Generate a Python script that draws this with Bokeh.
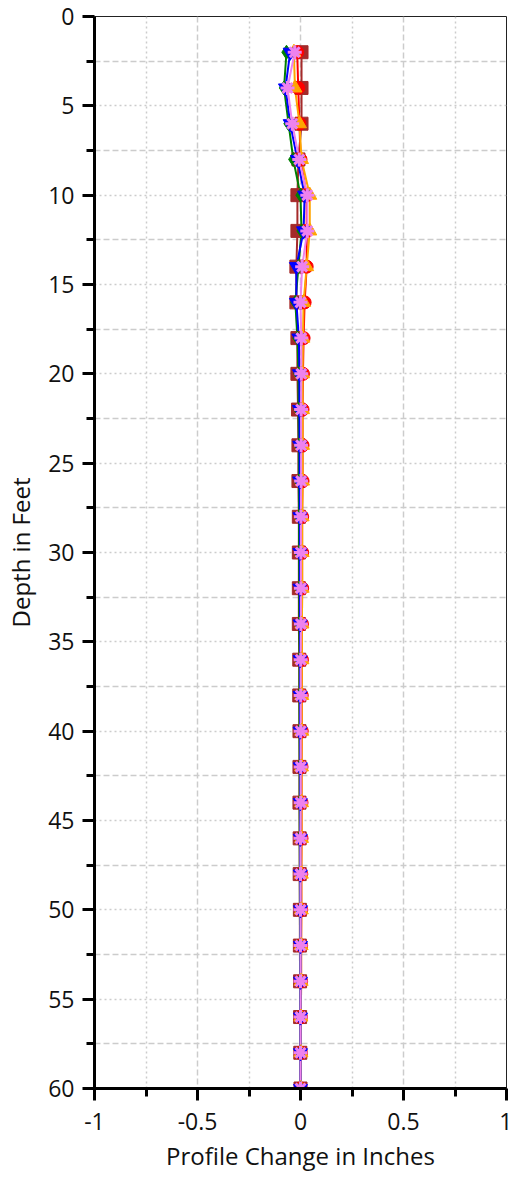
from bokeh.plotting import figure
from bokeh.models import Range1d, FixedTicker, CustomJSTickFormatter
from bokeh.embed import file_html
from bokeh.resources import INLINE

depth = [2, 4, 6, 8, 10, 12, 14, 16, 18, 20, 22, 24, 26, 28, 30,
         32, 34, 36, 38, 40, 42, 44, 46, 48, 50, 52, 54, 56, 58, 60]

s_brown = [0.005, 0.005, 0.005, -0.01, -0.015, -0.015, -0.02, -0.02, -0.015, -0.015,
           -0.012, -0.01, -0.01, -0.008, -0.008, -0.008, -0.008, -0.006, -0.006, -0.005,
           -0.005, -0.005, -0.004, -0.004, -0.003, -0.003, -0.002, -0.002, -0.001, 0.0]
s_red = [-0.016, -0.011, -0.005, 0.0, 0.03, 0.03, 0.03, 0.02, 0.015, 0.012,
         0.01, 0.01, 0.01, 0.008, 0.008, 0.008, 0.007, 0.007, 0.006, 0.006,
         0.005, 0.005, 0.005, 0.004, 0.004, 0.003, 0.003, 0.002, 0.002, 0.001]
s_orange = [-0.032, -0.027, -0.005, 0.005, 0.045, 0.045, 0.03, 0.015, 0.012, 0.01,
            0.01, 0.01, 0.01, 0.008, 0.008, 0.008, 0.007, 0.007, 0.006, 0.006,
            0.005, 0.005, 0.005, 0.004, 0.004, 0.003, 0.003, 0.002, 0.002, 0.001]
s_green = [-0.068, -0.08, -0.058, -0.035, 0.0, 0.005, -0.01, -0.025, -0.015, -0.01,
           -0.01, -0.008, -0.008, -0.007, -0.007, -0.006, -0.006, -0.005, -0.005, -0.005,
           -0.004, -0.004, -0.004, -0.003, -0.003, -0.002, -0.002, -0.001, -0.001, 0.0]
s_blue = [-0.05, -0.073, -0.05, -0.015, 0.02, 0.015, -0.02, -0.02, -0.008, -0.005,
          -0.005, -0.004, -0.004, -0.003, -0.003, -0.003, -0.002, -0.002, -0.002, -0.002,
          -0.001, -0.001, -0.001, -0.001, 0.0, 0.0, 0.0, 0.0, 0.0, 0.0]
s_violet = [-0.028, -0.063, -0.04, -0.006, 0.033, 0.033, 0.008, 0.0, 0.004, 0.004,
            0.003, 0.003, 0.003, 0.002, 0.002, 0.002, 0.002, 0.001, 0.001, 0.001,
            0.001, 0.001, 0.0, 0.0, 0.0, 0.0, 0.0, 0.0, 0.0, 0.0]

x_major = [-1, -0.5, 0, 0.5, 1]
x_minor = [-0.75, -0.25, 0.25, 0.75]
y_major = [0, 5, 10, 15, 20, 25, 30, 35, 40, 45, 50, 55, 60]
y_minor = [2.5, 7.5, 12.5, 17.5, 22.5, 27.5, 32.5, 37.5, 42.5, 47.5, 52.5, 57.5]

FONT = "Open Sans"

p = figure(width=512, height=1180, output_backend="svg", toolbar_location=None,
           x_range=Range1d(-1, 1), y_range=Range1d(60, 0),
           min_border_left=94, min_border_right=6, min_border_top=16, min_border_bottom=92)
p.background_fill_color = "white"
p.border_fill_color = "white"
p.outline_line_color = "#222222"
p.outline_line_width = 1

p.xaxis.ticker = FixedTicker(ticks=x_major, minor_ticks=x_minor)
p.yaxis.ticker = FixedTicker(ticks=y_major, minor_ticks=y_minor)
p.xaxis.formatter = CustomJSTickFormatter(code="return tick.toString();")
p.yaxis.formatter = CustomJSTickFormatter(code="return tick.toString();")

for ax in (p.xaxis[0], p.yaxis[0]):
    ax.axis_line_color = "black"
    ax.axis_line_width = 3
    ax.major_tick_line_color = "black"
    ax.major_tick_line_width = 3
    ax.major_tick_out = 12
    ax.major_tick_in = 0
    ax.minor_tick_line_color = "black"
    ax.minor_tick_line_width = 3
    ax.minor_tick_out = 8
    ax.minor_tick_in = 0
    ax.major_label_text_font = FONT
    ax.major_label_text_font_size = "23px"
    ax.major_label_text_color = "#111111"
    ax.axis_label_text_font = FONT
    ax.axis_label_text_font_size = "24px"
    ax.axis_label_text_font_style = "normal"
    ax.axis_label_text_color = "#111111"

p.xaxis.axis_label = "Profile Change in Inches"
p.yaxis.axis_label = "Depth in Feet"
p.xaxis.major_label_standoff = 12
p.yaxis.major_label_standoff = 8
p.xaxis.axis_label_standoff = 6
p.yaxis.axis_label_standoff = 8

p.xgrid.grid_line_color = "#cccccc"
p.xgrid.grid_line_width = 1.5
p.xgrid.grid_line_dash = "6 3"
p.xgrid.minor_grid_line_color = "#cccccc"
p.xgrid.minor_grid_line_width = 1.5
p.xgrid.minor_grid_line_dash = "2 3"
p.ygrid.grid_line_color = "#cccccc"
p.ygrid.grid_line_width = 1.5
p.ygrid.grid_line_dash = "2 3"
p.ygrid.minor_grid_line_color = "#cccccc"
p.ygrid.minor_grid_line_width = 1.5
p.ygrid.minor_grid_line_dash = "6 3"

series = [
    (s_brown, "#a52a2a", "square", 13),
    (s_red, "#ff0000", "circle", 13),
    (s_orange, "#ffa500", "triangle", 14),
    (s_green, "#008000", "diamond", 14),
    (s_blue, "#0000ff", "inverted_triangle", 14),
    (s_violet, "#ee82ee", "asterisk", 14),
]

for vals, col, mk, sz in series:
    p.line(vals, depth, line_color=col, line_width=2)
for vals, col, mk, sz in series:
    if mk == "asterisk":
        p.scatter(vals, depth, marker="asterisk", size=sz, line_color=col, line_width=3)
    else:
        p.scatter(vals, depth, marker=mk, size=sz, fill_color=col, line_color=col, line_width=1)

open("out.html", "w").write(file_html(p, INLINE))
